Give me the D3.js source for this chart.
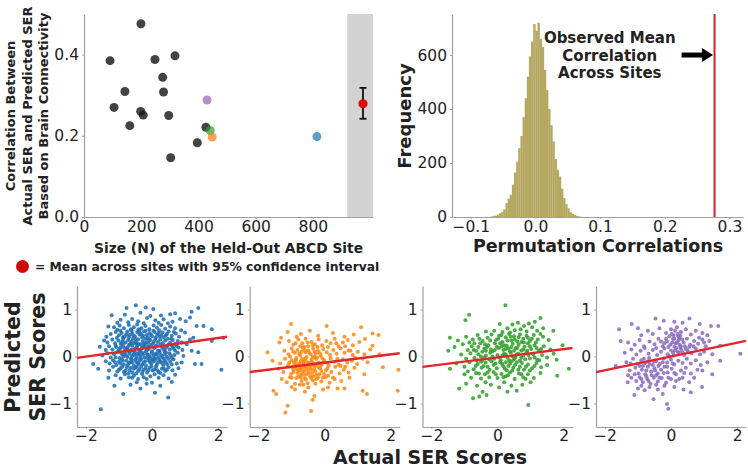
<!DOCTYPE html>
<html><head><meta charset="utf-8">
<script src="https://cdn.jsdelivr.net/npm/d3@7"></script>
<style>body{margin:0;background:#fff}svg{display:block}</style>
</head><body><svg id="c" width="748" height="468"></svg>
<script>
// ---------- Panel A: site correlations ----------
const siteN = [199,91,248,318,275,143,278,105,198,207,296,160,426,396,303,430,441,448,814];
const siteR = [0.476,0.385,0.388,0.397,0.344,0.309,0.308,0.270,0.260,0.251,0.250,0.225,0.221,0.183,0.146,0.288,0.213,0.197,0.198];
const siteGroup = ["other","other","other","other","other","other","other","other","other","other","other","other","other","other","other","purple","green","orange","blue"];
const xTicksA = [0,200,400,600,800];
const yTicksA = [0.0,0.2,0.4];
const meanBand = [920,1010];
const meanX = 975;
const meanR = 0.279, ciLow = 0.242, ciHigh = 0.318;

// ---------- Panel B: permutation histogram ----------
const binStart = -0.0694, binWidth = 0.0033;
const histCounts = [2,4,5,9,14,18,28,52,68,82,120,165,205,255,300,370,440,520,595,650,715,690,720,660,630,545,470,400,340,280,215,175,150,105,70,48,32,18,12,7,4,2,1];
const observedMean = 0.277;
const xTicksB = [-0.1,0.0,0.1,0.2,0.3];
const yTicksB = [0,200,400,600];
const annotLines = ["Observed Mean","Correlation","Across Sites"];

// ---------- Bottom scatter panels ----------
const bluePts = [[-0.49,1.09],[-0.77,1.03],[-0.19,1.04],[0.04,1.01],[1.40,1.03],[1.20,0.95],[-1.22,0.88],[0.27,0.87],[-0.82,0.89],[1.15,0.83],[-0.35,0.93],[0.55,0.90],[-0.05,0.86],[0.70,0.92],
[-0.95,0.78],[-0.6,0.80],[-0.42,0.75],[-0.15,0.82],[0.1,0.77],[0.35,0.79],[0.62,0.74],[0.85,0.80],[-1.05,0.72],[-0.25,0.71],[0.2,0.72],[0.48,0.71],[1.02,0.75],[-0.72,0.73],
[-1.32,0.64],[1.35,0.65],[1.56,0.65],[1.81,0.58],[-1.15,0.62],[-0.98,0.66],[-0.85,0.60],[-0.7,0.67],[-0.55,0.62],[-0.45,0.68],[-0.32,0.60],[-0.2,0.65],[-0.08,0.58],[0.05,0.66],[0.15,0.61],[0.28,0.67],[0.4,0.59],[0.55,0.64],[0.7,0.60],[0.88,0.56],[-0.62,0.56],[-1.05,0.57],[0.22,0.56],[-0.38,0.55],
[-1.25,0.48],[-1.1,0.52],[-1.0,0.45],[-0.92,0.50],[-0.83,0.42],[-0.75,0.53],[-0.68,0.46],[-0.6,0.50],[-0.52,0.43],[-0.45,0.52],[-0.38,0.47],[-0.3,0.41],[-0.24,0.53],[-0.16,0.46],[-0.08,0.50],[0.0,0.43],[0.08,0.52],[0.16,0.47],[0.24,0.42],[0.32,0.51],[0.42,0.45],[0.5,0.53],[0.6,0.44],[0.72,0.49],[0.82,0.42],[1.0,0.51],[1.25,0.40],[1.81,0.33],[2.16,0.40],[-1.38,0.42],[-0.88,0.41],[-0.12,0.41],[0.36,0.41],[-0.7,0.41],
[-1.35,0.30],[-1.2,0.36],[-1.12,0.28],[-1.02,0.34],[-0.95,0.27],[-0.87,0.37],[-0.8,0.30],[-0.72,0.35],[-0.65,0.27],[-0.58,0.38],[-0.5,0.31],[-0.42,0.36],[-0.35,0.26],[-0.28,0.33],[-0.2,0.38],[-0.12,0.29],[-0.05,0.35],[0.03,0.27],[0.1,0.37],[0.18,0.31],[0.25,0.36],[0.33,0.28],[0.4,0.34],[0.48,0.38],[0.55,0.29],[0.63,0.35],[0.7,0.27],[0.78,0.33],[0.9,0.30],[1.05,0.26],[1.15,0.36],[-1.45,0.34],[-0.9,0.32],[-0.46,0.28],[0.06,0.32],[0.5,0.26],[-0.25,0.27],[-0.62,0.32],
[-1.58,0.21],[-1.4,0.14],[-1.3,0.22],[-1.2,0.15],[-1.1,0.23],[-1.02,0.12],[-0.95,0.19],[-0.88,0.24],[-0.8,0.13],[-0.73,0.20],[-0.66,0.11],[-0.6,0.23],[-0.52,0.16],[-0.45,0.22],[-0.38,0.12],[-0.3,0.19],[-0.22,0.24],[-0.15,0.14],[-0.08,0.21],[0.0,0.11],[0.07,0.18],[0.14,0.24],[0.22,0.13],[0.3,0.20],[0.38,0.11],[0.46,0.22],[0.54,0.15],[0.62,0.21],[0.7,0.12],[0.8,0.19],[0.92,0.14],[1.20,0.12],[1.40,0.09],[-0.98,0.16],[-0.56,0.13],[-0.12,0.22],[0.34,0.16],[-0.34,0.15],[-0.76,0.17],[0.18,0.12],
[-1.5,0.02],[-1.35,0.07],[-1.25,-0.02],[-1.15,0.05],[-1.05,0.09],[-0.98,-0.03],[-0.9,0.04],[-0.82,0.08],[-0.75,-0.01],[-0.68,0.06],[-0.6,0.01],[-0.52,0.09],[-0.45,-0.03],[-0.38,0.04],[-0.3,0.08],[-0.22,-0.02],[-0.15,0.05],[-0.07,0.00],[0.0,0.07],[0.08,-0.03],[0.15,0.04],[0.23,0.09],[0.3,-0.01],[0.38,0.05],[0.45,0.00],[0.53,0.07],[0.6,-0.03],[0.68,0.03],[0.78,0.08],[0.95,0.01],[-0.42,0.07],[0.05,0.02],[-0.86,0.00],[0.36,-0.04],
[-1.78,-0.16],[-1.4,-0.10],[-1.28,-0.15],[-1.18,-0.08],[-1.08,-0.18],[-1.0,-0.11],[-0.92,-0.06],[-0.85,-0.17],[-0.77,-0.09],[-0.7,-0.14],[-0.62,-0.07],[-0.55,-0.19],[-0.48,-0.11],[-0.4,-0.16],[-0.33,-0.06],[-0.25,-0.13],[-0.18,-0.19],[-0.1,-0.08],[-0.02,-0.15],[0.06,-0.10],[0.14,-0.18],[0.22,-0.07],[0.3,-0.14],[0.38,-0.09],[0.46,-0.17],[0.55,-0.11],[0.65,-0.06],[0.75,-0.15],[0.90,-0.13],[1.30,-0.16],[1.50,-0.16],[-0.6,-0.12],[0.1,-0.06],
[-1.63,-0.26],[-1.3,-0.30],[-1.18,-0.22],[-1.05,-0.32],[-0.95,-0.25],[-0.85,-0.33],[-0.76,-0.23],[-0.68,-0.29],[-0.6,-0.34],[-0.5,-0.24],[-0.42,-0.31],[-0.33,-0.22],[-0.25,-0.28],[-0.15,-0.34],[-0.07,-0.24],[0.02,-0.30],[0.12,-0.22],[0.2,-0.33],[0.3,-0.26],[0.4,-0.31],[0.5,-0.23],[0.62,-0.29],[0.8,-0.25],[2.10,-0.28],[-0.55,-0.26],
[-1.32,-0.45],[-1.1,-0.40],[-0.95,-0.47],[-0.82,-0.38],[-0.7,-0.44],[-0.55,-0.41],[-0.42,-0.48],[-0.3,-0.37],[-0.16,-0.48],[-0.05,-0.42],[0.08,-0.38],[0.2,-0.45],[0.35,-0.40],[0.5,-0.47],[0.7,-0.39],[-0.25,-0.44],
[-1.14,-0.62],[0.60,-0.54],[-0.87,-0.80],[0.09,-0.77],[0.49,-0.87],[-1.55,-1.12],[-0.46,-0.55],[-0.16,-0.58],[-0.65,-0.60],[0.25,-0.62],[-0.35,-0.68],[0.0,-0.56],
[-1.06,0.40],[-0.96,0.55],[-0.78,0.47],[-0.64,0.58],[-0.57,0.45],[-0.49,0.37],[-0.41,0.58],[-0.34,0.49],[-0.27,0.44],[-0.19,0.55],[-0.11,0.36],[-0.03,0.47],[0.04,0.55],[0.12,0.41],[0.2,0.50],[0.28,0.45],[0.45,0.48],[0.58,0.38],[0.66,0.52],
[-1.08,0.20],[-0.91,0.28],[-0.84,0.18],[-0.69,0.25],[-0.62,0.15],[-0.54,0.28],[-0.48,0.19],[-0.41,0.26],[-0.26,0.21],[-0.18,0.30],[-0.1,0.16],[-0.02,0.25],[0.11,0.21],[0.26,0.26],[0.42,0.18],[0.58,0.25],[0.74,0.23],[0.66,0.17],
[-1.1,-0.02],[-0.94,0.08],[-0.79,0.03],[-0.71,0.11],[-0.64,-0.04],[-0.56,0.05],[-0.49,0.02],[-0.34,-0.01],[-0.27,0.04],[-0.19,0.10],[-0.11,0.03],[-0.03,-0.04],[0.11,0.06],[0.19,-0.02],[0.27,0.03],[0.42,0.09],[0.49,-0.05],[0.57,0.02],
[-1.12,-0.12],[-0.96,-0.15],[-0.88,-0.09],[-0.73,-0.18],[-0.66,-0.12],[-0.51,-0.06],[-0.44,-0.14],[-0.37,-0.09],[-0.29,-0.17],[-0.21,-0.10],[-0.14,-0.03],[-0.06,-0.12],[0.02,-0.07],[0.18,-0.13],[0.26,-0.10],[0.34,-0.18],[0.42,-0.12],[0.6,-0.17],
[-1.0,-0.28],[-0.9,-0.22],[-0.8,-0.30],[-0.72,-0.36],[-0.64,-0.24],[-0.46,-0.22],[-0.38,-0.27],[-0.29,-0.33],[-0.2,-0.25],[-0.11,-0.29],[-0.02,-0.21],[0.07,-0.27],[0.16,-0.29],[0.25,-0.35],[0.35,-0.25],[0.45,-0.28],[-0.6,-0.45],[-0.48,-0.36]];

const orangePts = [[-1.02,0.69],[0.06,0.65],[1.10,0.62],
[-1.12,0.52],[-1.32,0.40],[1.45,0.49],[1.63,0.46],[-0.72,0.48],[-0.45,0.55],[-0.2,0.44],[0.25,0.50],[0.6,0.42],[-0.85,0.42],[0.88,0.47],
[-1.37,0.30],[1.45,0.23],[-1.08,0.33],[-0.95,0.25],[-0.8,0.36],[-0.68,0.28],[-0.58,0.38],[-0.5,0.22],[-0.4,0.31],[-0.3,0.26],[-0.18,0.36],[-0.08,0.24],[0.05,0.33],[0.18,0.28],[0.3,0.38],[0.42,0.22],[0.55,0.30],[0.7,0.35],[0.85,0.24],[1.05,0.31],[1.22,0.37],[-0.62,0.21],
[-1.73,0.09],[1.66,0.05],[-1.22,0.12],[-1.1,0.05],[-1.0,0.17],[-0.9,0.08],[-0.82,0.14],[-0.74,0.02],[-0.66,0.18],[-0.58,0.09],[-0.5,0.13],[-0.42,0.04],[-0.35,0.17],[-0.27,0.07],[-0.2,0.12],[-0.12,0.02],[-0.04,0.16],[0.06,0.09],[0.16,0.03],[0.26,0.14],[0.36,0.06],[0.48,0.17],[0.6,0.08],[0.72,0.13],[0.85,0.03],[1.0,0.10],[1.2,0.05],[1.38,0.15],[-0.7,0.10],[-0.3,0.00],
[-1.58,-0.09],[-1.35,-0.15],[-1.2,-0.05],[-1.1,-0.18],[-1.0,-0.08],[-0.93,-0.14],[-0.86,-0.03],[-0.8,-0.19],[-0.72,-0.10],[-0.65,-0.16],[-0.58,-0.04],[-0.52,-0.12],[-0.46,-0.19],[-0.4,-0.07],[-0.33,-0.15],[-0.26,-0.05],[-0.18,-0.13],[-0.1,-0.18],[-0.02,-0.08],[0.08,-0.14],[0.18,-0.04],[0.3,-0.11],[0.42,-0.17],[0.55,-0.06],[0.68,-0.13],[0.82,-0.09],[0.98,-0.16],[1.15,-0.05],[1.3,-0.12],[-0.62,-0.08],[-0.88,-0.11],[-0.36,-0.02],[0.12,-0.19],
[1.76,-0.23],[2.23,-0.28],[-1.4,-0.26],[-1.25,-0.33],[-1.12,-0.22],[-1.02,-0.37],[-0.95,-0.28],[-0.88,-0.21],[-0.82,-0.35],[-0.75,-0.26],[-0.68,-0.32],[-0.62,-0.22],[-0.56,-0.38],[-0.5,-0.29],[-0.44,-0.24],[-0.38,-0.35],[-0.32,-0.27],[-0.25,-0.39],[-0.18,-0.23],[-0.1,-0.31],[-0.02,-0.37],[0.08,-0.25],[0.2,-0.33],[0.32,-0.22],[0.45,-0.36],[0.58,-0.28],[0.72,-0.34],[0.9,-0.24],[1.2,-0.38],[-0.72,-0.39],[-0.3,-0.21],[-0.6,-0.30],
[-1.3,-0.48],[-1.15,-0.55],[-1.0,-0.45],[-0.9,-0.58],[-0.8,-0.43],[-0.7,-0.52],[-0.6,-0.46],[-0.52,-0.57],[-0.44,-0.42],[-0.36,-0.51],[-0.28,-0.58],[-0.2,-0.45],[-0.1,-0.53],[0.02,-0.44],[0.15,-0.56],[0.3,-0.48],[0.5,-0.52],[0.75,-0.45],[-0.65,-0.60],
[-1.55,-0.73],[-1.47,-0.80],[-1.12,-1.05],[-1.19,-1.19],[-0.41,-1.16],[0.39,-0.68],[0.60,-0.68],[1.15,-0.73],[1.28,-0.80],[2.21,-0.73],[-0.36,-0.92],[-0.31,-0.84],[-0.9,-0.7],[-0.6,-0.75],[-0.05,-0.7],[-1.0,-0.65],[0.1,-0.66],
[-1.05,0.0],[-0.95,0.1],[-0.87,-0.07],[-0.77,0.06],[-0.69,-0.05],[-0.61,0.14],[-0.55,-0.01],[-0.47,0.08],[-0.39,-0.11],[-0.31,0.10],[-0.23,-0.02],[-0.15,0.07],[-0.07,-0.04],
[-1.07,-0.13],[-0.98,-0.23],[-0.9,-0.17],[-0.84,-0.27],[-0.77,-0.15],[-0.7,-0.26],[-0.63,-0.12],[-0.55,-0.24],[-0.48,-0.14],[-0.41,-0.28],[-0.35,-0.18],[-0.28,-0.32],[-0.22,-0.16],[-0.14,-0.25],[-0.06,-0.13],[0.04,-0.29],
[-1.05,-0.44],[-0.94,-0.33],[-0.86,-0.46],[-0.78,-0.30],[-0.72,-0.44],[-0.64,-0.37],[-0.57,-0.49],[-0.49,-0.36],[-0.41,-0.46],[-0.34,-0.42],[-0.26,-0.48],[-0.16,-0.38],[-0.06,-0.45],[0.1,-0.41],
[-0.88,0.28],[-0.74,0.22],[-0.52,0.30],[-0.36,0.24],[-0.22,0.2],[0.1,0.2],[0.35,0.28],[0.62,0.22],[0.78,0.12],[0.92,-0.02],[0.38,-0.05],[0.48,-0.2],[0.62,-0.22],[0.25,-0.45],[-0.5,-0.66],[-0.75,-0.6]];

const greenPts = [[0.24,1.09],[-0.86,0.89],[-0.97,0.77],[-1.44,0.40],[-1.49,0.12],[-1.44,-0.26],[-1.16,-0.68],[-0.74,-0.89],[-0.33,-0.82],[0.93,-1.03],[0.58,-0.73],[1.13,0.74],[1.30,0.82],[1.69,0.55],[1.97,0.24],[1.79,-0.07],[2.16,-0.26],[1.81,-0.41],[0.07,0.69],
[0.45,0.68],[0.62,0.72],[0.8,0.65],[0.95,0.70],[0.3,0.60],[0.52,0.56],[0.7,0.58],[0.88,0.53],[1.05,0.62],[-0.1,0.55],[0.15,0.52],[1.2,0.55],[-0.35,0.53],[0.38,0.51],[1.38,0.6],
[-1.2,0.34],[-0.95,0.42],[-0.75,0.36],[-0.6,0.46],[-0.45,0.33],[-0.3,0.40],[-0.18,0.47],[-0.05,0.35],[0.05,0.44],[0.15,0.31],[0.25,0.41],[0.35,0.48],[0.42,0.34],[0.5,0.43],[0.6,0.32],[0.68,0.47],[0.78,0.38],[0.88,0.44],[0.98,0.33],[1.1,0.46],[1.22,0.36],[1.38,0.42],[1.55,0.35],[-0.85,0.3],[0.3,0.34],[0.72,0.31],
[-1.3,0.2],[-1.05,0.26],[-0.9,0.14],[-0.78,0.22],[-0.65,0.12],[-0.52,0.28],[-0.4,0.17],[-0.28,0.24],[-0.15,0.11],[-0.02,0.21],[0.08,0.28],[0.18,0.14],[0.28,0.23],[0.38,0.11],[0.46,0.27],[0.55,0.18],[0.64,0.25],[0.72,0.12],[0.82,0.21],[0.92,0.28],[1.02,0.16],[1.12,0.24],[1.25,0.13],[1.4,0.22],[1.6,0.15],[-0.35,0.12],[0.33,0.17],[0.9,0.12],
[-1.1,0.04],[-0.95,-0.05],[-0.82,0.07],[-0.7,-0.03],[-0.58,0.05],[-0.46,-0.08],[-0.35,0.02],[-0.22,0.08],[-0.1,-0.05],[0.0,0.03],[0.1,-0.08],[0.2,0.06],[0.3,-0.02],[0.4,0.08],[0.5,-0.06],[0.58,0.04],[0.68,-0.09],[0.78,0.02],[0.88,0.09],[0.98,-0.04],[1.08,0.05],[1.2,-0.07],[1.35,0.03],[1.5,-0.02],[1.7,0.06],[-0.25,-0.06],[0.45,0.0],
[-1.25,-0.15],[-1.0,-0.22],[-0.85,-0.12],[-0.72,-0.27],[-0.6,-0.16],[-0.48,-0.24],[-0.36,-0.13],[-0.24,-0.28],[-0.12,-0.18],[-0.02,-0.25],[0.08,-0.12],[0.18,-0.21],[0.28,-0.29],[0.38,-0.15],[0.48,-0.24],[0.58,-0.12],[0.68,-0.22],[0.8,-0.28],[0.92,-0.17],[1.05,-0.25],[1.18,-0.14],[1.32,-0.23],[1.5,-0.18],[-0.5,-0.11],[0.25,-0.12],
[-1.0,-0.38],[-0.8,-0.45],[-0.65,-0.35],[-0.5,-0.47],[-0.38,-0.38],[-0.25,-0.44],[-0.12,-0.33],[0.0,-0.46],[0.12,-0.37],[0.25,-0.42],[0.38,-0.34],[0.52,-0.48],[0.65,-0.36],[0.78,-0.44],[0.92,-0.38],[1.1,-0.46],[1.3,-0.35],[-0.9,-0.32],
[-0.95,-0.58],[-0.62,-0.62],[-0.45,-0.75],[-0.2,-0.6],[0.05,-0.66],[0.2,-0.55],[0.42,-0.62],[0.75,-0.6],[1.0,-0.55],[-0.55,-0.85],[-0.36,-0.55],[0.3,-0.75],
[-0.7,0.28],[-0.55,0.38],[-0.38,0.26],[-0.22,0.34],[-0.08,0.28],[0.02,0.38],[0.12,0.46],[0.2,0.24],[0.4,0.42],[0.52,0.36],[0.64,0.41],[0.8,0.3],[0.92,0.4],[1.04,0.38],[1.16,0.3],[1.3,0.48],
[-0.72,0.14],[-0.58,0.2],[-0.46,0.1],[-0.32,0.2],[-0.2,0.15],[-0.08,0.14],[0.04,0.18],[0.13,0.22],[0.24,0.16],[0.42,0.2],[0.5,0.12],[0.6,0.18],[0.78,0.15],[0.98,0.22],[1.18,0.18],[1.32,0.16],
[-0.62,-0.08],[-0.5,0.0],[-0.4,-0.02],[-0.15,0.0],[0.05,-0.02],[0.15,0.02],[0.25,0.04],[0.35,-0.08],[0.54,-0.02],[0.63,0.06],[0.72,-0.02],[0.84,-0.06],[0.94,0.03],[1.12,-0.02],[1.26,-0.08],
[-0.66,-0.2],[-0.42,-0.2],[-0.3,-0.22],[-0.18,-0.1],[-0.06,-0.15],[0.14,-0.16],[0.22,-0.26],[0.33,-0.2],[0.43,-0.1],[0.53,-0.18],[0.63,-0.28],[0.74,-0.14],[0.86,-0.22],[0.98,-0.3],[1.12,-0.2],
[-0.56,-0.36],[-0.3,-0.34],[-0.05,-0.38],[0.18,-0.44],[0.32,-0.4],[0.45,-0.3],[0.72,-0.38],[0.85,-0.48]];

const purplePts = [[-1.57,0.58],[-1.52,0.33],[-1.19,0.69],[-0.47,0.81],[-0.22,0.76],[0.10,0.74],[0.35,0.72],[0.56,0.81],[1.21,0.65],[1.43,0.65],[0.87,0.69],[1.16,0.33],[1.49,0.23],[2.10,0.06],[1.49,-0.09],[1.25,-0.38],[0.94,-0.65],[-1.31,-0.55],[-1.11,-0.82],[-0.53,-0.91],[-0.12,-1.01],[-0.08,-1.11],[-1.67,-0.2],
[-0.9,0.45],[-0.7,0.55],[-0.55,0.48],[-0.35,0.6],[-0.15,0.5],[0.0,0.58],[0.08,0.45],[0.18,0.62],[0.3,0.52],[0.45,0.58],[0.6,0.47],[0.75,0.55],[0.95,0.5],[1.1,0.45],[-1.0,0.6],[0.22,0.42],[-0.05,0.43],
[-1.3,0.3],[-1.1,0.25],[-0.95,0.35],[-0.82,0.22],[-0.65,0.32],[-0.5,0.26],[-0.38,0.38],[-0.25,0.22],[-0.12,0.32],[-0.02,0.25],[0.06,0.37],[0.14,0.28],[0.22,0.34],[0.3,0.22],[0.38,0.3],[0.48,0.38],[0.58,0.25],[0.7,0.33],[0.82,0.27],[0.95,0.36],[1.05,0.22],[-0.2,0.28],[0.1,0.21],[0.26,0.39],
[-1.4,0.08],[-1.2,0.15],[-1.05,0.04],[-0.92,0.12],[-0.8,0.18],[-0.68,0.06],[-0.55,0.14],[-0.42,0.03],[-0.3,0.1],[-0.2,0.17],[-0.1,0.05],[0.0,0.13],[0.08,0.02],[0.16,0.18],[0.24,0.08],[0.32,0.14],[0.4,0.03],[0.5,0.12],[0.62,0.07],[0.75,0.17],[0.88,0.05],[1.0,0.1],[1.25,0.05],[-0.05,0.0],[0.2,0.1],
[-1.35,-0.12],[-1.15,-0.05],[-1.02,-0.16],[-0.9,-0.08],[-0.78,-0.14],[-0.66,-0.03],[-0.55,-0.18],[-0.45,-0.1],[-0.34,-0.16],[-0.22,-0.04],[-0.12,-0.13],[0.0,-0.07],[0.1,-0.17],[0.22,-0.09],[0.35,-0.14],[0.48,-0.05],[0.6,-0.15],[0.75,-0.08],[0.9,-0.18],[1.1,-0.12],[-0.7,-0.1],
[-1.25,-0.3],[-1.08,-0.24],[-0.98,-0.36],[-0.88,-0.28],[-0.78,-0.38],[-0.7,-0.22],[-0.6,-0.32],[-0.5,-0.25],[-0.4,-0.36],[-0.3,-0.28],[-0.2,-0.22],[-0.1,-0.34],[0.02,-0.26],[0.15,-0.38],[0.3,-0.3],[0.45,-0.24],[0.6,-0.36],[0.8,-0.28],[-0.85,-0.2],[-0.45,-0.4],
[-1.2,-0.45],[-1.05,-0.52],[-0.95,-0.44],[-0.85,-0.55],[-0.72,-0.48],[-0.62,-0.58],[-0.52,-0.45],[-0.4,-0.53],[-0.28,-0.46],[-0.15,-0.56],[0.0,-0.48],[0.15,-0.52],[0.35,-0.45],[0.55,-0.55],[-0.75,-0.42],
[-1.0,-0.68],[-0.8,-0.72],[-0.65,-0.65],[-0.4,-0.7],[-0.25,-0.8],[0.38,-0.7],[0.6,-0.76],[-0.9,-0.62],[0.1,-0.65],
[0.02,0.48],[0.12,0.55],[0.2,0.48],[0.28,0.44],[0.1,0.38],[0.34,0.36],[0.18,0.3],[0.04,0.3],[0.26,0.25],[0.42,0.22],[0.12,0.13],[0.28,0.18],[0.36,0.08],[0.06,0.08],[0.45,0.16],[0.55,0.2],[0.68,0.22],[-0.08,0.2],[-0.15,0.38],[-0.3,0.32],[-0.45,0.18],
[-0.95,-0.2],[-0.82,-0.05],[-0.75,-0.3],[-0.65,-0.16],[-0.58,-0.4],[-0.52,-0.1],[-0.48,-0.3],[-0.38,-0.2],[-0.35,-0.45],[-0.25,-0.12],[-0.22,-0.35],[-0.12,-0.22],[-0.08,-0.45],[0.05,-0.15],[0.1,-0.35],[-1.1,-0.38],[-0.9,-0.48],[-0.68,-0.52],[-0.45,-0.6],[-0.2,-0.62],[0.25,-0.48],[0.4,-0.35],[0.7,-0.45],[0.95,-0.3],[1.0,0.3],[0.85,0.4],[-1.22,-0.15],[-1.3,-0.4]];

const scatterSets = [bluePts, orangePts, greenPts, purplePts];
const fitSlope = [0.099, 0.088, 0.088, 0.146];
const fitIntercept = [0.195, -0.13, -0.02, 0.0];
const xTicksS = [-2,0,2];
const yTicksS = [-1,0,1];

// ---------- drawing ----------
const FONT = '"DejaVu Sans", sans-serif';
const AX = '#a0a0a0';
const TXT = '#222';
const palette = {other:'#1a1a1a', blue:'#1f77b4', orange:'#ff7f0e', green:'#2ca02c', purple:'#9467bd'};
const scatterColors = ['#1f6fb4','#ff8a14','#33a02c','#8d6cc0'];
const svg = d3.select('#c');

function styleAxis(g){
  g.attr('font-family', FONT).attr('font-size', 15.5);
  g.select('.domain').attr('stroke', AX).attr('stroke-width', 1.2);
  g.selectAll('.tick line').attr('stroke', AX);
  g.selectAll('.tick text').attr('fill', TXT);
}
function rotText(x, y, txt, size){
  svg.append('text').attr('transform', `translate(${x},${y}) rotate(-90)`)
    .attr('text-anchor','middle').attr('dy','0.36em')
    .attr('font-family', FONT).attr('font-weight','bold').attr('font-size', size)
    .attr('fill', TXT).text(txt);
}
function text(x, y, txt, size, anchor){
  return svg.append('text').attr('x', x).attr('y', y).attr('text-anchor', anchor||'middle')
    .attr('font-family', FONT).attr('font-weight','bold').attr('font-size', size)
    .attr('fill', TXT).text(txt);
}

// Panel A
const xA = d3.scaleLinear().domain([0,1010]).range([84,373]);
const yA = d3.scaleLinear().domain([0,0.5]).range([217,14]);
svg.append('rect').attr('x', xA(meanBand[0])).attr('y', yA(0.5))
  .attr('width', xA(meanBand[1]) - xA(meanBand[0])).attr('height', yA(0) - yA(0.5)).attr('fill', '#d3d3d3');
svg.append('g').attr('transform','translate(0,217)')
  .call(d3.axisBottom(xA).tickValues(xTicksA).tickFormat(d3.format('d')).tickSize(2).tickPadding(2).tickSizeOuter(0)).call(styleAxis);
svg.append('g').attr('transform','translate(84,0)')
  .call(d3.axisLeft(yA).tickValues(yTicksA).tickFormat(d3.format('.1f')).tickSize(2).tickPadding(3).tickSizeOuter(0)).call(styleAxis);
const siteIdx = d3.range(siteN.length).sort((a,b)=> (siteGroup[a]==='other'?0:1) - (siteGroup[b]==='other'?0:1));
svg.append('g').selectAll('circle').data(siteIdx).join('circle')
  .attr('cx', i => xA(siteN[i])).attr('cy', i => yA(siteR[i])).attr('r', 4.5)
  .attr('fill', i => palette[siteGroup[i]])
  .attr('fill-opacity', i => siteGroup[i]==='other' ? 0.82 : 0.72);
// mean with CI
svg.append('line').attr('x1', xA(meanX)).attr('x2', xA(meanX)).attr('y1', yA(ciLow)).attr('y2', yA(ciHigh))
  .attr('stroke','#111').attr('stroke-width',1.8);
[ciLow, ciHigh].forEach(v => svg.append('line').attr('x1', xA(meanX)-3.5).attr('x2', xA(meanX)+3.5)
  .attr('y1', yA(v)).attr('y2', yA(v)).attr('stroke','#111').attr('stroke-width',1.8));
svg.append('circle').attr('cx', xA(meanX)).attr('cy', yA(meanR)).attr('r', 4.6).attr('fill','#e00a0a');
// labels A
rotText(10, 116, 'Correlation Between', 13);
rotText(27, 116, 'Actual SER and Predicted SER', 13);
rotText(43, 116, 'Based on Brain Connectivity', 13);
text(228.5, 253, 'Size (N) of the Held-Out ABCD Site', 13.8);
svg.append('circle').attr('cx', 22.5).attr('cy', 266.5).attr('r', 6.5).attr('fill','#d00808');
text(35, 271, '= Mean across sites with 95% confidence interval', 12.3, 'start');

// Panel B
const xB = d3.scaleLinear().domain([-0.129,0.321]).range([452,743]);
const yB = d3.scaleLinear().domain([0,752]).range([217,14]);
svg.append('g').selectAll('rect').data(histCounts).join('rect')
  .attr('x', (c,i) => xB(binStart + i*binWidth))
  .attr('width', (c,i) => xB(binStart + (i+1)*binWidth) - xB(binStart + i*binWidth) + 0.25)
  .attr('y', c => yB(c)).attr('height', c => yB(0) - yB(c))
  .attr('fill', '#b6a862');
svg.append('g').attr('transform','translate(0,217)')
  .call(d3.axisBottom(xB).tickValues(xTicksB).tickFormat(d3.format('.1f')).tickSize(2).tickPadding(2).tickSizeOuter(0)).call(styleAxis);
svg.append('g').attr('transform','translate(452,0)')
  .call(d3.axisLeft(yB).tickValues(yTicksB).tickFormat(d3.format('d')).tickSize(2).tickPadding(3).tickSizeOuter(0)).call(styleAxis);
svg.append('line').attr('x1', xB(observedMean)).attr('x2', xB(observedMean)).attr('y1', yB(0)).attr('y2', yB(752))
  .attr('stroke','#d42027').attr('stroke-width',2);
// arrow
const ay = yB(600), ax0 = xB(0.226), ax1 = xB(observedMean) - 1.5;
svg.append('line').attr('x1', ax0).attr('x2', ax1 - 9).attr('y1', ay).attr('y2', ay).attr('stroke','#000').attr('stroke-width',5);
svg.append('path').attr('d', `M${ax1},${ay} L${ax1-11},${ay-7} L${ax1-11},${ay+7} Z`).attr('fill','#000');
annotLines.forEach((t,i) => text(xB(0.115), yB(600) + (i-1)*17.5 + 5.5, t, 15));
rotText(405, 116, 'Frequency', 18);
text(598, 252, 'Permutation Correlations', 17.5);

// Bottom panels
const lefts = [77, 249.7, 422.5, 596];
lefts.forEach((L, k) => {
  const xS = d3.scaleLinear().domain([-2.27,2.27]).range([L, L+150]);
  const yS = d3.scaleLinear().domain([-1.5,1.5]).range([427,286]);
  svg.append('g').attr('transform','translate(0,427)')
    .call(d3.axisBottom(xS).tickValues(xTicksS).tickFormat(d3.format('d')).tickSize(2).tickPadding(1).tickSizeOuter(0)).call(styleAxis);
  svg.append('g').attr('transform',`translate(${L},0)`)
    .call(d3.axisLeft(yS).tickValues(yTicksS).tickFormat(d3.format('d')).tickSize(2).tickPadding(3).tickSizeOuter(0)).call(styleAxis);
  svg.append('g').selectAll('circle').data(scatterSets[k]).join('circle')
    .attr('cx', d => xS(d[0])).attr('cy', d => yS(d[1])).attr('r', 2.0)
    .attr('fill', scatterColors[k]).attr('fill-opacity', 0.88);
  const xd = xS.domain();
  svg.append('line').attr('x1', xS(xd[0])).attr('x2', xS(xd[1]))
    .attr('y1', yS(fitIntercept[k] + fitSlope[k]*xd[0])).attr('y2', yS(fitIntercept[k] + fitSlope[k]*xd[1]))
    .attr('stroke','#e3242b').attr('stroke-width',2.4);
});
rotText(13, 357, 'Predicted', 20.5);
rotText(38, 357, 'SER Scores', 20.5);
text(430, 463.5, 'Actual SER Scores', 19);
</script></body></html>
